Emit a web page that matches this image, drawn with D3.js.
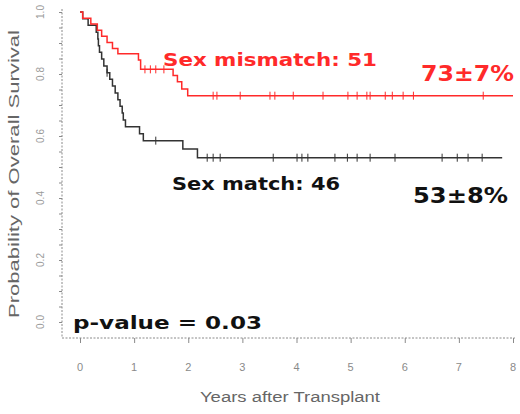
<!DOCTYPE html>
<html>
<head>
<meta charset="utf-8">
<script src="https://cdn.jsdelivr.net/npm/d3@7"></script>
<style>
html,body{margin:0;padding:0;background:#fff;}
svg{display:block;font-family:"Liberation Sans",Arial,sans-serif;}
</style>
</head>
<body>
<svg id="chart" width="520" height="414"></svg>
<script>
// ---- data ----
const xTicks = [0,1,2,3,4,5,6,7,8];
const yTicks = [0,0.2,0.4,0.6,0.8,1.0];

const mismatchTimes = [0,0.05,0.2,0.32,0.4,0.5,0.6,0.7,1.08,1.12,1.72,1.8,1.88,1.99,8.0];
const mismatchSurv  = [1,0.98,0.961,0.941,0.922,0.902,0.882,0.865,0.845,0.815,0.795,0.775,0.752,0.73,0.73];
const mismatchCensor = [1.2,1.3,1.4,1.55,2.46,2.53,2.96,3.51,3.60,3.94,4.49,4.95,5.12,5.30,5.36,5.64,5.77,5.97,6.16,7.45];

const matchTimes = [0,0.05,0.15,0.3,0.33,0.34,0.36,0.4,0.44,0.5,0.55,0.6,0.65,0.7,0.74,0.78,0.8,0.84,1.1,1.17,1.9,2.17,7.8];
const matchSurv  = [1,0.978,0.957,0.935,0.913,0.891,0.87,0.848,0.826,0.804,0.783,0.761,0.739,0.717,0.696,0.674,0.652,0.63,0.607,0.585,0.558,0.53,0.53];
const matchCensor = [0.5,1.4,2.35,2.46,2.59,3.57,4.01,4.10,4.21,4.71,4.94,5.12,5.36,5.82,6.69,6.97,7.17,7.43];

const labels = {
  mismatch: "Sex mismatch: 51", mismatchPct: "73±7%",
  match: "Sex match: 46", matchPct: "53±8%",
  pvalue: "p-value = 0.03",
  xTitle: "Years after Transplant", yTitle: "Probability of Overall Survival"
};

// ---- scales ----
const svg = d3.select("#chart");
const x = d3.scaleLinear().domain([0,8]).range([80,513]);
const y = d3.scaleLinear().domain([0,1]).range([322,12]);
const axisGray = "#8a8a8a";

// axes lines (dotted look)
svg.append("line").attr("x1",62).attr("x2",62).attr("y1",9).attr("y2",338)
  .attr("stroke",axisGray).attr("stroke-width",1).attr("stroke-dasharray","2,1.5");
svg.append("line").attr("x1",62).attr("x2",515).attr("y1",338).attr("y2",338)
  .attr("stroke",axisGray).attr("stroke-width",1).attr("stroke-dasharray","2,1.5");

// y axis ticks (minor + major)
const yAxisG = svg.append("g").attr("transform","translate(62,0)")
  .call(d3.axisLeft(y).tickValues(d3.range(0,1.0001,0.05)).tickSize(3).tickFormat(""));
yAxisG.select(".domain").remove();
yAxisG.selectAll("line").attr("stroke",axisGray);

svg.append("g").selectAll("text").data(yTicks).join("text")
  .attr("transform",d=>`translate(44,${y(d)}) rotate(-90)`)
  .attr("text-anchor","middle").attr("font-size",10).attr("fill","#9a9a9a")
  .text(d=>d3.format(".1f")(d));

// x axis
const xAxisG = svg.append("g").attr("transform","translate(0,338)")
  .call(d3.axisBottom(x).tickValues(xTicks).tickSize(5).tickFormat(""));
xAxisG.select(".domain").remove();
xAxisG.selectAll("line").attr("stroke",axisGray);
svg.append("g").selectAll("text").data(xTicks).join("text")
  .attr("x",d=>x(d)).attr("y",371).attr("text-anchor","middle")
  .attr("font-size",11).attr("fill","#8a8a8a").text(d=>d);

// titles
svg.append("text").attr("x",290).attr("y",402).attr("text-anchor","middle")
  .attr("font-size",14).attr("fill","#666")
  .attr("textLength",180).attr("lengthAdjust","spacingAndGlyphs").text(labels.xTitle);
svg.append("text").attr("transform","translate(19,174) rotate(-90)").attr("text-anchor","middle")
  .attr("font-size",15).attr("fill","#666")
  .attr("textLength",288).attr("lengthAdjust","spacingAndGlyphs").text(labels.yTitle);

// curves
const line = d3.line().x(d=>x(d[0])).y(d=>y(d[1])).curve(d3.curveStepAfter);
function survAt(times, surv, t){
  let v = surv[0];
  for(let i=0;i<times.length;i++){ if(times[i]<=t) v = surv[i]; }
  return v;
}
function drawCurve(times, surv, censor, color){
  const pts = times.map((t,i)=>[t,surv[i]]);
  svg.append("path").datum(pts).attr("d",line).attr("fill","none")
    .attr("stroke",color).attr("stroke-width",1.5);
  svg.append("g").selectAll("line").data(censor).join("line")
    .attr("x1",d=>x(d)).attr("x2",d=>x(d))
    .attr("y1",d=>y(survAt(times,surv,d))-4).attr("y2",d=>y(survAt(times,surv,d))+4)
    .attr("stroke",color).attr("stroke-width",1);
}
const red = "#ff2a2a", dark = "#333333";
drawCurve(matchTimes, matchSurv, matchCensor, dark);
drawCurve(mismatchTimes, mismatchSurv, mismatchCensor, red);

// annotations
function label(txt, x0, yb, len, size, color){
  svg.append("text").attr("x",x0).attr("y",yb).attr("font-size",size)
    .attr("font-family","'DejaVu Sans',sans-serif")
    .attr("font-weight","bold").attr("fill",color)
    .attr("textLength",len).attr("lengthAdjust","spacingAndGlyphs").text(txt);
}
label(labels.mismatch, 163, 66, 214, 17, red);
label(labels.mismatchPct, 421, 81, 93, 21, red);
label(labels.match, 172, 190, 168, 17, "#111");
label(labels.matchPct, 413, 203, 95, 21, "#111");
label(labels.pvalue, 73, 329, 189, 18, "#111");
</script>
</body>
</html>
